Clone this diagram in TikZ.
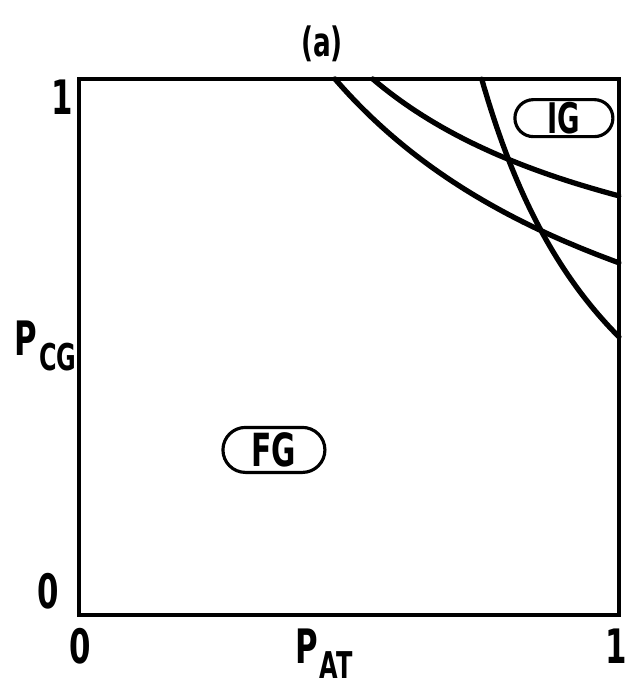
\documentclass[tikz,border=0pt]{standalone}
\usepackage{fontspec}
\setmainfont{DejaVu Sans}[FakeStretch=0.65]
\usetikzlibrary{shapes.misc}
\tikzset{
  every picture/.style={line width=0.9pt},
  sframe/.style={line width=0.9pt},
  sline/.style={line width=1.5pt, line cap=round, line join=round},
  sphase/.style={draw, rounded rectangle, line width=0.9pt, inner sep=0pt,
                 font=\fontsize{13}{13}\selectfont\bfseries},
  stick/.style={inner sep=0pt, font=\fontsize{13.5}{14}\selectfont\bfseries},
}
\newcommand{\plab}[1]{P\kern0.5pt\raisebox{-0.6ex}{\fontsize{10.5}{11}\selectfont #1}}

\begin{document}
\begin{tikzpicture}[x=5.4cm, y=5.36cm]
\useasboundingbox (-0.1463,-0.1306) rectangle (1.0111,1.1474);
\draw[sframe] (0,0) rectangle (1,1);
% phase boundaries
\draw[sline] plot[domain=0.474:1, samples=60] (\x, {0.523/(\x+0.1964)+0.22});
\draw[sline] plot[domain=0.544:1, samples=60] (\x, {0.2837/(\x+0.0314)+0.507});
\draw[sline] plot[domain=0.519:1, samples=60] ({0.3002/(\x+0.032)+0.455}, \x);
% regions
\node[sphase, minimum width=1.02cm, minimum height=0.45cm] (fg) at (0.361,0.308) {FG};
\node[sphase, minimum width=0.98cm, minimum height=0.37cm,
      font=\fontsize{12}{12}\selectfont\bfseries] (ig) at (0.898,0.927) {IG};
% ticks and labels
\node[stick] (x0) at (0.002,-0.058) {0};
\node[stick] (x1) at (0.994,-0.058) {1};
\node[stick] (y0) at (-0.057,0.045) {0};
\node[stick] (y1) at (-0.031,0.966) {1};
\node[stick, anchor=base west] (xlab) at (0.398,-0.0896) {\plab{AT}};
\node[stick, anchor=base west] (ylab) at (-0.122,0.485) {\plab{CG}};
\node[stick, font=\fontsize{11.5}{12}\selectfont\bfseries] (title) at (0.450,1.065) {(a)};
\end{tikzpicture}
\end{document}
